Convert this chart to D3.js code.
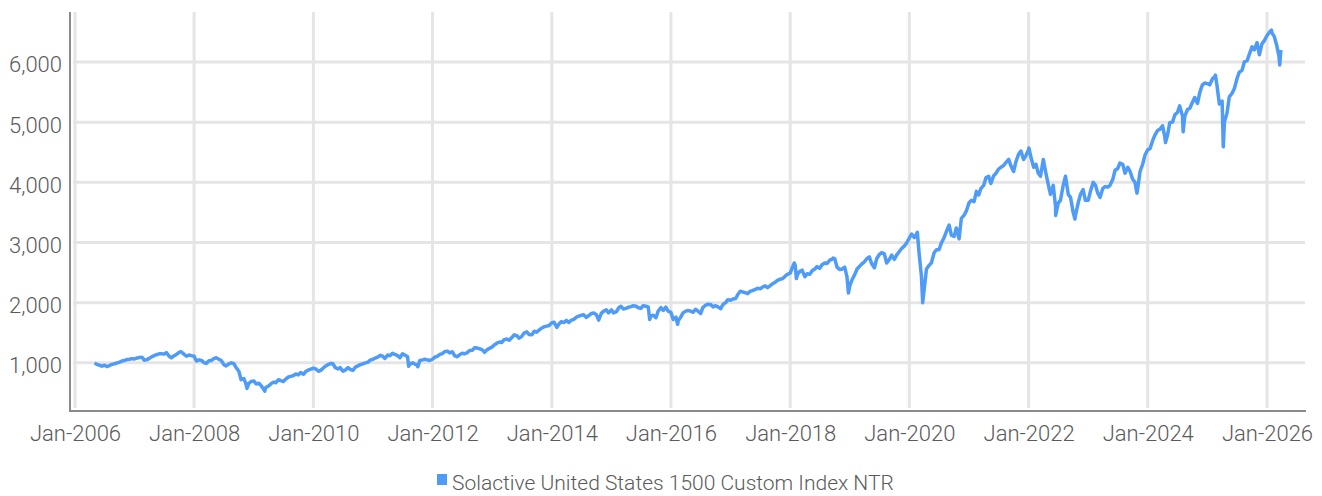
<!DOCTYPE html>
<meta charset="utf-8">
<style>
body { margin: 0; background: #fff; }
.tick text { font: 300 22px Roboto, "Liberation Sans", sans-serif; fill: #5a5a5a; }
.legend { font: 300 21px Roboto, "Liberation Sans", sans-serif; fill: #5a5a5a; }
.grid line { stroke: #e5e5e5; stroke-width: 3px; }
</style>
<body>
<svg width="1322" height="496"></svg>
<script src="https://d3js.org/d3.v7.min.js"></script>
<script>
// semi-monthly readings (1st and 15th of each month)
var seriesName = "Solactive United States 1500 Custom Index NTR";
var firstMonth = "2006-05";
var v2006 = [1000, 975, 960, 945, 960, 940, 955, 975, 985, 1000, 1010, 1030, 1040, 1055, 1060, 1070];
var v2007 = [1065, 1080, 1090, 1095, 1045, 1050, 1075, 1100, 1120, 1135, 1150, 1150, 1145, 1170, 1110, 1085, 1120, 1140, 1175, 1180, 1140, 1110, 1130, 1120];
var v2008 = [1110, 1030, 1050, 1040, 1005, 990, 1035, 1040, 1070, 1085, 1060, 1040, 970, 950, 985, 1000, 985, 920, 860, 720, 740, 640, 660, 690];
var v2009 = [700, 650, 660, 620, 565, 590, 615, 650, 680, 670, 720, 705, 690, 730, 765, 775, 790, 815, 800, 840, 810, 855, 880, 895];
var v2010 = [910, 900, 860, 875, 910, 945, 970, 990, 985, 920, 900, 920, 860, 880, 920, 890, 875, 930, 950, 970, 985, 1000, 1010, 1045];
var v2011 = [1060, 1080, 1100, 1125, 1110, 1075, 1130, 1120, 1160, 1140, 1120, 1085, 1150, 1130, 1100, 980, 1000, 980, 960, 1040, 1050, 1060, 1050, 1040];
var v2012 = [1060, 1095, 1110, 1140, 1155, 1185, 1195, 1165, 1185, 1120, 1100, 1135, 1160, 1150, 1170, 1205, 1210, 1250, 1245, 1235, 1215, 1175, 1220, 1240];
var v2013 = [1265, 1300, 1330, 1345, 1340, 1385, 1395, 1375, 1420, 1465, 1450, 1410, 1440, 1495, 1515, 1470, 1465, 1525, 1510, 1545, 1580, 1600, 1610, 1620];
var v2014 = [1665, 1675, 1590, 1650, 1685, 1670, 1705, 1670, 1710, 1720, 1760, 1775, 1790, 1800, 1755, 1785, 1820, 1830, 1800, 1710, 1825, 1860, 1880, 1830];
var v2015 = [1880, 1830, 1850, 1915, 1940, 1895, 1905, 1925, 1935, 1950, 1940, 1915, 1905, 1950, 1940, 1930, 1780, 1790, 1750, 1860, 1920, 1870, 1925, 1860];
var v2016 = [1840, 1720, 1760, 1700, 1760, 1830, 1860, 1870, 1860, 1840, 1890, 1860, 1820, 1920, 1960, 1975, 1970, 1930, 1950, 1930, 1900, 1970, 2000, 2050];
var v2017 = [2040, 2060, 2070, 2140, 2190, 2180, 2165, 2150, 2190, 2200, 2220, 2240, 2230, 2260, 2280, 2250, 2285, 2315, 2340, 2370, 2390, 2400, 2440, 2470];
var v2018 = [2490, 2590, 2620, 2470, 2520, 2540, 2430, 2480, 2470, 2530, 2560, 2600, 2570, 2630, 2660, 2650, 2710, 2720, 2730, 2590, 2550, 2560, 2590, 2430];
var v2019 = [2280, 2380, 2470, 2560, 2600, 2640, 2680, 2730, 2760, 2650, 2580, 2730, 2800, 2830, 2810, 2660, 2720, 2790, 2720, 2790, 2850, 2900, 2940, 2990];
var v2020 = [3075, 3140, 3080, 3150, 2820, 2450, 2220, 2560, 2620, 2660, 2830, 2880, 2880, 2990, 3080, 3180, 3290, 3120, 3100, 3240, 3060, 3400, 3450, 3520];
var v2021 = [3660, 3700, 3680, 3850, 3790, 3900, 3950, 4080, 4100, 3980, 4110, 4150, 4220, 4250, 4280, 4330, 4380, 4270, 4180, 4340, 4470, 4520, 4380, 4440];
var v2022 = [4540, 4420, 4250, 4300, 4150, 4100, 4380, 4180, 3970, 3800, 3950, 3600, 3650, 3700, 3950, 4100, 3800, 3750, 3500, 3450, 3660, 3800, 3880, 3700];
var v2023 = [3700, 3850, 4000, 3950, 3820, 3750, 3900, 3930, 3920, 3950, 4050, 4200, 4230, 4320, 4300, 4150, 4250, 4180, 4050, 4000, 3900, 4180, 4300, 4450];
var v2024 = [4540, 4560, 4700, 4790, 4860, 4880, 4940, 4750, 4780, 4990, 5000, 5120, 5160, 5270, 5100, 5100, 5210, 5230, 5330, 5410, 5310, 5490, 5620, 5650];
var v2025 = [5640, 5620, 5720, 5760, 5600, 5300, 5350, 5000, 5150, 5420, 5480, 5560, 5720, 5830, 5860, 6000, 6020, 6130, 6250, 6200, 6320, 6120, 6300, 6350];
var v2026 = [6440, 6490, 6480, 6420, 6280, 6100];

// highs and lows between the regular readings
var extremes = [
  ["2007-10-09", 1185], ["2008-11-20", 575], ["2009-03-09", 530],
  ["2011-08-08", 945], ["2011-10-03", 935], ["2015-08-24", 1720],
  ["2016-02-11", 1640], ["2018-01-26", 2660], ["2018-02-08", 2400],
  ["2018-09-20", 2740], ["2018-12-24", 2160], ["2020-02-19", 3170],
  ["2020-03-23", 2000], ["2022-01-03", 4570], ["2022-06-16", 3450],
  ["2022-10-12", 3390], ["2023-10-27", 3820], ["2024-04-19", 4660],
  ["2024-08-05", 4840], ["2025-02-19", 5780], ["2025-04-08", 4590],
  ["2026-01-28", 6530], ["2026-03-20", 5950], ["2026-03-27", 6200]
];

var yTicks = [1000, 2000, 3000, 4000, 5000, 6000];

var parse = d3.timeParse("%Y-%m-%d");
var values = [].concat(v2006, v2007, v2008, v2009, v2010, v2011, v2012, v2013, v2014,
  v2015, v2016, v2017, v2018, v2019, v2020, v2021, v2022, v2023, v2024, v2025, v2026);

var data = [];
var m0 = d3.timeParse("%Y-%m")(firstMonth);
values.forEach(function(v, i) {
  var m = d3.timeMonth.offset(m0, Math.floor(i / 2));
  data.push({ date: i % 2 ? d3.timeDay.offset(m, 14) : m, value: v });
});
extremes.forEach(function(e) { data.push({ date: parse(e[0]), value: e[1] }); });
data.sort(function(a, b) { return a.date - b.date; });

var svg = d3.select("svg");

var x = d3.scaleTime()
    .domain([new Date(2006, 0, 1), new Date(2026, 0, 1)])
    .range([75, 1267]);

var y = d3.scaleLinear()
    .domain([200, 6830])
    .range([411, 12]);

var xTicks = d3.timeYear.every(2).range(new Date(2006, 0, 1), new Date(2026, 0, 2));

// grid
var grid = svg.append("g").attr("class", "grid");
grid.selectAll(".h").data(yTicks).enter().append("line")
    .attr("x1", 73).attr("x2", 1305)
    .attr("y1", function(d) { return y(d); })
    .attr("y2", function(d) { return y(d); });
grid.selectAll(".v").data(xTicks).enter().append("line")
    .attr("x1", function(d) { return x(d); })
    .attr("x2", function(d) { return x(d); })
    .attr("y1", 12).attr("y2", 408);

// axes
var yAxis = svg.append("g")
    .attr("transform", "translate(62,0)")
    .call(d3.axisLeft(y).tickValues(yTicks).tickSize(0).tickPadding(0).tickFormat(d3.format(",")));
yAxis.select(".domain").remove();
yAxis.selectAll("text").attr("dy", "0.45em");

var xAxis = svg.append("g")
    .attr("transform", "translate(0,411)")
    .call(d3.axisBottom(x).tickValues(xTicks).tickSize(0).tickPadding(14).tickFormat(d3.timeFormat("%b-%Y")));
xAxis.select(".domain").remove();
xAxis.selectAll("text").attr("dy", "0.71em");

svg.append("line")
    .attr("x1", 70).attr("x2", 70).attr("y1", 12).attr("y2", 412)
    .attr("stroke", "#8a8a8a").attr("stroke-width", 2);
svg.append("line")
    .attr("x1", 69).attr("x2", 1306).attr("y1", 411).attr("y2", 411)
    .attr("stroke", "#8a8a8a").attr("stroke-width", 2);

// series
var line = d3.line()
    .x(function(d) { return x(d.date); })
    .y(function(d) { return y(d.value); });

svg.append("path")
    .datum(data)
    .attr("fill", "none")
    .attr("stroke", "#4f9bf8")
    .attr("stroke-width", 3.5)
    .attr("stroke-linejoin", "round")
    .attr("d", line);

// legend
var legend = svg.append("g");
legend.append("rect")
    .attr("x", 437).attr("y", 474).attr("width", 10).attr("height", 11)
    .attr("fill", "#4f9bf8");
legend.append("text")
    .attr("class", "legend")
    .attr("x", 452).attr("y", 490)
    .text(seriesName);
</script>
</body>
